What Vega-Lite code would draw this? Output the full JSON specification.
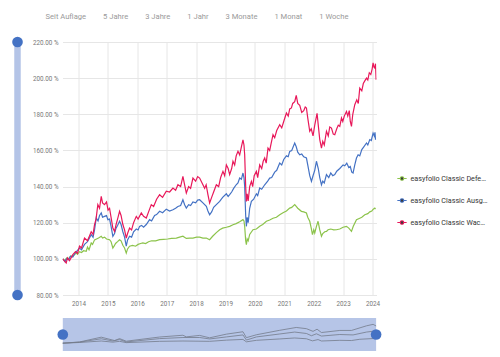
{
  "$schema": "https://vega.github.io/schema/vega-lite/v6.json",
  "padding": {"left": 11.5, "top": 13, "right": 0, "bottom": 0},
  "background": "white",
  "title": {
    "text": "Seit Auflage\u00a0\u00a0\u00a0\u00a0\u00a0\u00a0\u00a0\u00a0\u00a05 Jahre\u00a0\u00a0\u00a0\u00a0\u00a0\u00a0\u00a0\u00a0\u00a03 Jahre\u00a0\u00a0\u00a0\u00a0\u00a0\u00a0\u00a0\u00a0\u00a01 Jahr\u00a0\u00a0\u00a0\u00a0\u00a0\u00a0\u00a0\u00a0\u00a03 Monate\u00a0\u00a0\u00a0\u00a0\u00a0\u00a0\u00a0\u00a0\u00a01 Monat\u00a0\u00a0\u00a0\u00a0\u00a0\u00a0\u00a0\u00a0\u00a01 Woche",
    "anchor": "start",
    "dx": 34,
    "offset": 16,
    "fontSize": 7.6,
    "fontWeight": "normal",
    "color": "#9a9a9a"
  },
  "config": {"view": {"stroke": null}, "font": "Roboto"},
  "bounds": "flush",
  "spacing": 39,
  "hconcat": [
    {
      "width": 12,
      "height": 253,
      "data": {"values": [{"lo": 80, "hi": 220}]},
      "layer": [
        {
          "mark": {"type": "rule", "strokeWidth": 6.5, "color": "#b4c4e7"},
          "encoding": {
            "y": {"field": "lo", "type": "quantitative", "scale": {"domain": [80, 220], "nice": false, "zero": false}, "axis": null},
            "y2": {"field": "hi"}
          }
        },
        {
          "mark": {"type": "circle", "size": 113, "color": "#4472c4", "opacity": 1},
          "encoding": {
            "y": {"field": "lo", "type": "quantitative", "scale": {"domain": [80, 220], "nice": false, "zero": false}, "axis": null}
          }
        },
        {
          "mark": {"type": "circle", "size": 113, "color": "#4472c4", "opacity": 1},
          "encoding": {
            "y": {"field": "hi", "type": "quantitative", "scale": {"domain": [80, 220], "nice": false, "zero": false}, "axis": null}
          }
        }
      ]
    },
    {
      "bounds": "flush",
      "spacing": 23,
      "resolve": {"scale": {"stroke": "independent"}, "legend": {"stroke": "independent"}},
      "vconcat": [
        {
          "width": 314,
          "height": 253,
          "data": {"values": [
            {"d":2013.465,"s":"Defensiv","v":100},{"d":2013.540,"s":"Defensiv","v":99},{"d":2013.591,"s":"Defensiv","v":100.5},{"d":2013.660,"s":"Defensiv","v":100},{"d":2013.728,"s":"Defensiv","v":101.5},{"d":2013.806,"s":"Defensiv","v":101.5},{"d":2013.922,"s":"Defensiv","v":103.2},{"d":2013.966,"s":"Defensiv","v":102.5},{"d":2014.034,"s":"Defensiv","v":104},{"d":2014.102,"s":"Defensiv","v":103.5},{"d":2014.170,"s":"Defensiv","v":104.5},{"d":2014.262,"s":"Defensiv","v":104.2},{"d":2014.306,"s":"Defensiv","v":106.5},{"d":2014.358,"s":"Defensiv","v":105},{"d":2014.432,"s":"Defensiv","v":108.8},{"d":2014.477,"s":"Defensiv","v":108},{"d":2014.545,"s":"Defensiv","v":110.5},{"d":2014.613,"s":"Defensiv","v":111},{"d":2014.681,"s":"Defensiv","v":111.5},{"d":2014.773,"s":"Defensiv","v":112.5},{"d":2014.817,"s":"Defensiv","v":111.5},{"d":2014.885,"s":"Defensiv","v":112},{"d":2014.953,"s":"Defensiv","v":111},{"d":2015.056,"s":"Defensiv","v":110.6},{"d":2015.107,"s":"Defensiv","v":109.5},{"d":2015.168,"s":"Defensiv","v":106},{"d":2015.209,"s":"Defensiv","v":107},{"d":2015.260,"s":"Defensiv","v":108.5},{"d":2015.328,"s":"Defensiv","v":109.5},{"d":2015.396,"s":"Defensiv","v":110.6},{"d":2015.447,"s":"Defensiv","v":110},{"d":2015.508,"s":"Defensiv","v":107.5},{"d":2015.566,"s":"Defensiv","v":106},{"d":2015.624,"s":"Defensiv","v":103.2},{"d":2015.668,"s":"Defensiv","v":105.5},{"d":2015.736,"s":"Defensiv","v":107},{"d":2015.839,"s":"Defensiv","v":107.5},{"d":2015.941,"s":"Defensiv","v":107},{"d":2016.026,"s":"Defensiv","v":108},{"d":2016.111,"s":"Defensiv","v":108.5},{"d":2016.189,"s":"Defensiv","v":108.8},{"d":2016.281,"s":"Defensiv","v":108.5},{"d":2016.383,"s":"Defensiv","v":109.5},{"d":2016.486,"s":"Defensiv","v":110},{"d":2016.622,"s":"Defensiv","v":110},{"d":2016.758,"s":"Defensiv","v":110.6},{"d":2016.894,"s":"Defensiv","v":110.8},{"d":2017.030,"s":"Defensiv","v":111},{"d":2017.166,"s":"Defensiv","v":111.3},{"d":2017.327,"s":"Defensiv","v":111.5},{"d":2017.439,"s":"Defensiv","v":112},{"d":2017.551,"s":"Defensiv","v":112.5},{"d":2017.667,"s":"Defensiv","v":111.3},{"d":2017.779,"s":"Defensiv","v":111.5},{"d":2017.892,"s":"Defensiv","v":111.5},{"d":2018.018,"s":"Defensiv","v":112},{"d":2018.120,"s":"Defensiv","v":112},{"d":2018.232,"s":"Defensiv","v":111.5},{"d":2018.348,"s":"Defensiv","v":111.5},{"d":2018.409,"s":"Defensiv","v":111},{"d":2018.460,"s":"Defensiv","v":110.6},{"d":2018.562,"s":"Defensiv","v":112.5},{"d":2018.688,"s":"Defensiv","v":114.5},{"d":2018.801,"s":"Defensiv","v":116.1},{"d":2018.903,"s":"Defensiv","v":117},{"d":2019.029,"s":"Defensiv","v":117.5},{"d":2019.141,"s":"Defensiv","v":118},{"d":2019.254,"s":"Defensiv","v":118.9},{"d":2019.363,"s":"Defensiv","v":119.5},{"d":2019.482,"s":"Defensiv","v":120.5},{"d":2019.594,"s":"Defensiv","v":121.7},{"d":2019.628,"s":"Defensiv","v":121},{"d":2019.652,"s":"Defensiv","v":118},{"d":2019.686,"s":"Defensiv","v":110},{"d":2019.710,"s":"Defensiv","v":107.8},{"d":2019.737,"s":"Defensiv","v":111},{"d":2019.771,"s":"Defensiv","v":110},{"d":2019.822,"s":"Defensiv","v":113.5},{"d":2019.935,"s":"Defensiv","v":116.1},{"d":2020.050,"s":"Defensiv","v":116.5},{"d":2020.163,"s":"Defensiv","v":118},{"d":2020.265,"s":"Defensiv","v":119},{"d":2020.391,"s":"Defensiv","v":120.8},{"d":2020.503,"s":"Defensiv","v":121.5},{"d":2020.616,"s":"Defensiv","v":122.5},{"d":2020.731,"s":"Defensiv","v":123},{"d":2020.844,"s":"Defensiv","v":124.4},{"d":2020.956,"s":"Defensiv","v":125.5},{"d":2021.072,"s":"Defensiv","v":126.5},{"d":2021.184,"s":"Defensiv","v":128.1},{"d":2021.252,"s":"Defensiv","v":128.5},{"d":2021.354,"s":"Defensiv","v":130},{"d":2021.406,"s":"Defensiv","v":129},{"d":2021.457,"s":"Defensiv","v":128},{"d":2021.582,"s":"Defensiv","v":126.3},{"d":2021.661,"s":"Defensiv","v":126},{"d":2021.753,"s":"Defensiv","v":125.4},{"d":2021.797,"s":"Defensiv","v":123},{"d":2021.865,"s":"Defensiv","v":120.8},{"d":2021.916,"s":"Defensiv","v":117},{"d":2021.957,"s":"Defensiv","v":113.4},{"d":2022.001,"s":"Defensiv","v":116},{"d":2022.035,"s":"Defensiv","v":114.3},{"d":2022.093,"s":"Defensiv","v":118},{"d":2022.148,"s":"Defensiv","v":120.8},{"d":2022.206,"s":"Defensiv","v":116},{"d":2022.264,"s":"Defensiv","v":112.5},{"d":2022.308,"s":"Defensiv","v":114},{"d":2022.376,"s":"Defensiv","v":115},{"d":2022.434,"s":"Defensiv","v":115.2},{"d":2022.488,"s":"Defensiv","v":116.1},{"d":2022.580,"s":"Defensiv","v":116.5},{"d":2022.682,"s":"Defensiv","v":116},{"d":2022.774,"s":"Defensiv","v":116.1},{"d":2022.887,"s":"Defensiv","v":116.5},{"d":2022.999,"s":"Defensiv","v":117.5},{"d":2023.115,"s":"Defensiv","v":118},{"d":2023.193,"s":"Defensiv","v":117},{"d":2023.285,"s":"Defensiv","v":115.2},{"d":2023.346,"s":"Defensiv","v":118},{"d":2023.455,"s":"Defensiv","v":121.7},{"d":2023.567,"s":"Defensiv","v":122.5},{"d":2023.636,"s":"Defensiv","v":123},{"d":2023.738,"s":"Defensiv","v":124.4},{"d":2023.840,"s":"Defensiv","v":125},{"d":2023.908,"s":"Defensiv","v":126},{"d":2023.976,"s":"Defensiv","v":126.5},{"d":2024.027,"s":"Defensiv","v":127.5},{"d":2024.078,"s":"Defensiv","v":128.1},{"d":2024.102,"s":"Defensiv","v":127.5},
            {"d":2013.465,"s":"Ausgewogen","v":100},{"d":2013.540,"s":"Ausgewogen","v":98.5},{"d":2013.591,"s":"Ausgewogen","v":100},{"d":2013.660,"s":"Ausgewogen","v":99.5},{"d":2013.728,"s":"Ausgewogen","v":101.5},{"d":2013.806,"s":"Ausgewogen","v":101},{"d":2013.898,"s":"Ausgewogen","v":103.5},{"d":2014.034,"s":"Ausgewogen","v":106},{"d":2014.102,"s":"Ausgewogen","v":105},{"d":2014.204,"s":"Ausgewogen","v":108},{"d":2014.306,"s":"Ausgewogen","v":109.5},{"d":2014.432,"s":"Ausgewogen","v":113.4},{"d":2014.494,"s":"Ausgewogen","v":112},{"d":2014.545,"s":"Ausgewogen","v":116},{"d":2014.603,"s":"Ausgewogen","v":122.6},{"d":2014.664,"s":"Ausgewogen","v":121},{"d":2014.715,"s":"Ausgewogen","v":124},{"d":2014.773,"s":"Ausgewogen","v":125.4},{"d":2014.817,"s":"Ausgewogen","v":123},{"d":2014.885,"s":"Ausgewogen","v":123.5},{"d":2014.953,"s":"Ausgewogen","v":124},{"d":2014.998,"s":"Ausgewogen","v":121.7},{"d":2015.056,"s":"Ausgewogen","v":122},{"d":2015.107,"s":"Ausgewogen","v":118},{"d":2015.168,"s":"Ausgewogen","v":112.5},{"d":2015.226,"s":"Ausgewogen","v":114},{"d":2015.277,"s":"Ausgewogen","v":117},{"d":2015.328,"s":"Ausgewogen","v":118.5},{"d":2015.396,"s":"Ausgewogen","v":120.8},{"d":2015.447,"s":"Ausgewogen","v":119},{"d":2015.508,"s":"Ausgewogen","v":115},{"d":2015.566,"s":"Ausgewogen","v":112},{"d":2015.624,"s":"Ausgewogen","v":107},{"d":2015.668,"s":"Ausgewogen","v":110.5},{"d":2015.736,"s":"Ausgewogen","v":112.5},{"d":2015.805,"s":"Ausgewogen","v":112},{"d":2015.873,"s":"Ausgewogen","v":115},{"d":2015.965,"s":"Ausgewogen","v":116.5},{"d":2016.026,"s":"Ausgewogen","v":116},{"d":2016.077,"s":"Ausgewogen","v":118},{"d":2016.145,"s":"Ausgewogen","v":118.5},{"d":2016.213,"s":"Ausgewogen","v":117.5},{"d":2016.305,"s":"Ausgewogen","v":119},{"d":2016.417,"s":"Ausgewogen","v":121.7},{"d":2016.486,"s":"Ausgewogen","v":121},{"d":2016.588,"s":"Ausgewogen","v":124},{"d":2016.656,"s":"Ausgewogen","v":124.5},{"d":2016.758,"s":"Ausgewogen","v":126.3},{"d":2016.860,"s":"Ausgewogen","v":125.5},{"d":2016.986,"s":"Ausgewogen","v":127.5},{"d":2017.098,"s":"Ausgewogen","v":126.5},{"d":2017.211,"s":"Ausgewogen","v":127.2},{"d":2017.303,"s":"Ausgewogen","v":128},{"d":2017.381,"s":"Ausgewogen","v":129},{"d":2017.473,"s":"Ausgewogen","v":129.5},{"d":2017.551,"s":"Ausgewogen","v":132.7},{"d":2017.609,"s":"Ausgewogen","v":130},{"d":2017.667,"s":"Ausgewogen","v":128.1},{"d":2017.745,"s":"Ausgewogen","v":130},{"d":2017.813,"s":"Ausgewogen","v":129.5},{"d":2017.892,"s":"Ausgewogen","v":131.5},{"d":2017.984,"s":"Ausgewogen","v":131},{"d":2018.052,"s":"Ausgewogen","v":132.5},{"d":2018.120,"s":"Ausgewogen","v":132.7},{"d":2018.232,"s":"Ausgewogen","v":131},{"d":2018.348,"s":"Ausgewogen","v":129.1},{"d":2018.402,"s":"Ausgewogen","v":126.5},{"d":2018.460,"s":"Ausgewogen","v":124.4},{"d":2018.528,"s":"Ausgewogen","v":126},{"d":2018.596,"s":"Ausgewogen","v":128.5},{"d":2018.688,"s":"Ausgewogen","v":130},{"d":2018.801,"s":"Ausgewogen","v":131.8},{"d":2018.903,"s":"Ausgewogen","v":134},{"d":2019.029,"s":"Ausgewogen","v":136},{"d":2019.090,"s":"Ausgewogen","v":134.5},{"d":2019.141,"s":"Ausgewogen","v":135.5},{"d":2019.209,"s":"Ausgewogen","v":137},{"d":2019.277,"s":"Ausgewogen","v":139},{"d":2019.363,"s":"Ausgewogen","v":141},{"d":2019.424,"s":"Ausgewogen","v":142},{"d":2019.482,"s":"Ausgewogen","v":144.7},{"d":2019.540,"s":"Ausgewogen","v":144},{"d":2019.594,"s":"Ausgewogen","v":147.5},{"d":2019.628,"s":"Ausgewogen","v":145},{"d":2019.652,"s":"Ausgewogen","v":140},{"d":2019.686,"s":"Ausgewogen","v":124},{"d":2019.710,"s":"Ausgewogen","v":118},{"d":2019.737,"s":"Ausgewogen","v":123},{"d":2019.771,"s":"Ausgewogen","v":120},{"d":2019.822,"s":"Ausgewogen","v":128},{"d":2019.880,"s":"Ausgewogen","v":131.8},{"d":2019.958,"s":"Ausgewogen","v":133},{"d":2020.050,"s":"Ausgewogen","v":136},{"d":2020.094,"s":"Ausgewogen","v":135},{"d":2020.163,"s":"Ausgewogen","v":139.2},{"d":2020.231,"s":"Ausgewogen","v":138.5},{"d":2020.333,"s":"Ausgewogen","v":141},{"d":2020.435,"s":"Ausgewogen","v":143},{"d":2020.503,"s":"Ausgewogen","v":144.7},{"d":2020.571,"s":"Ausgewogen","v":145},{"d":2020.673,"s":"Ausgewogen","v":148},{"d":2020.742,"s":"Ausgewogen","v":149},{"d":2020.844,"s":"Ausgewogen","v":153},{"d":2020.912,"s":"Ausgewogen","v":152},{"d":2020.980,"s":"Ausgewogen","v":155},{"d":2021.072,"s":"Ausgewogen","v":157},{"d":2021.133,"s":"Ausgewogen","v":156.5},{"d":2021.184,"s":"Ausgewogen","v":159.5},{"d":2021.252,"s":"Ausgewogen","v":160},{"d":2021.303,"s":"Ausgewogen","v":162},{"d":2021.354,"s":"Ausgewogen","v":164.1},{"d":2021.406,"s":"Ausgewogen","v":162},{"d":2021.457,"s":"Ausgewogen","v":159},{"d":2021.525,"s":"Ausgewogen","v":157.6},{"d":2021.593,"s":"Ausgewogen","v":158},{"d":2021.661,"s":"Ausgewogen","v":156.5},{"d":2021.753,"s":"Ausgewogen","v":155.8},{"d":2021.797,"s":"Ausgewogen","v":152},{"d":2021.865,"s":"Ausgewogen","v":146},{"d":2021.923,"s":"Ausgewogen","v":142.9},{"d":2021.977,"s":"Ausgewogen","v":146},{"d":2022.035,"s":"Ausgewogen","v":149},{"d":2022.093,"s":"Ausgewogen","v":154},{"d":2022.155,"s":"Ausgewogen","v":150},{"d":2022.206,"s":"Ausgewogen","v":145},{"d":2022.264,"s":"Ausgewogen","v":141},{"d":2022.308,"s":"Ausgewogen","v":143},{"d":2022.359,"s":"Ausgewogen","v":142},{"d":2022.434,"s":"Ausgewogen","v":146.6},{"d":2022.512,"s":"Ausgewogen","v":145},{"d":2022.580,"s":"Ausgewogen","v":147.5},{"d":2022.648,"s":"Ausgewogen","v":146},{"d":2022.716,"s":"Ausgewogen","v":146.6},{"d":2022.784,"s":"Ausgewogen","v":148.5},{"d":2022.887,"s":"Ausgewogen","v":150},{"d":2022.999,"s":"Ausgewogen","v":152},{"d":2023.057,"s":"Ausgewogen","v":151.5},{"d":2023.125,"s":"Ausgewogen","v":153},{"d":2023.193,"s":"Ausgewogen","v":150.5},{"d":2023.244,"s":"Ausgewogen","v":151.1},{"d":2023.295,"s":"Ausgewogen","v":148},{"d":2023.339,"s":"Ausgewogen","v":147.5},{"d":2023.397,"s":"Ausgewogen","v":152},{"d":2023.455,"s":"Ausgewogen","v":155.8},{"d":2023.510,"s":"Ausgewogen","v":157.6},{"d":2023.567,"s":"Ausgewogen","v":157},{"d":2023.636,"s":"Ausgewogen","v":160.5},{"d":2023.704,"s":"Ausgewogen","v":162},{"d":2023.796,"s":"Ausgewogen","v":164.1},{"d":2023.840,"s":"Ausgewogen","v":163},{"d":2023.908,"s":"Ausgewogen","v":166},{"d":2023.959,"s":"Ausgewogen","v":165.5},{"d":2024.020,"s":"Ausgewogen","v":169.6},{"d":2024.061,"s":"Ausgewogen","v":168},{"d":2024.085,"s":"Ausgewogen","v":170},{"d":2024.102,"s":"Ausgewogen","v":165.9},
            {"d":2013.465,"s":"Wachstum","v":100},{"d":2013.540,"s":"Wachstum","v":98.5},{"d":2013.581,"s":"Wachstum","v":97.7},{"d":2013.625,"s":"Wachstum","v":100.5},{"d":2013.694,"s":"Wachstum","v":99},{"d":2013.806,"s":"Wachstum","v":102.3},{"d":2013.898,"s":"Wachstum","v":104},{"d":2013.966,"s":"Wachstum","v":103},{"d":2014.034,"s":"Wachstum","v":107},{"d":2014.102,"s":"Wachstum","v":106},{"d":2014.204,"s":"Wachstum","v":111.5},{"d":2014.306,"s":"Wachstum","v":110},{"d":2014.432,"s":"Wachstum","v":115},{"d":2014.494,"s":"Wachstum","v":113.5},{"d":2014.545,"s":"Wachstum","v":118.9},{"d":2014.596,"s":"Wachstum","v":122},{"d":2014.657,"s":"Wachstum","v":130},{"d":2014.715,"s":"Wachstum","v":128},{"d":2014.773,"s":"Wachstum","v":134.6},{"d":2014.817,"s":"Wachstum","v":131},{"d":2014.885,"s":"Wachstum","v":130},{"d":2014.953,"s":"Wachstum","v":131.5},{"d":2015.004,"s":"Wachstum","v":127},{"d":2015.056,"s":"Wachstum","v":128},{"d":2015.107,"s":"Wachstum","v":123},{"d":2015.168,"s":"Wachstum","v":117},{"d":2015.226,"s":"Wachstum","v":115.2},{"d":2015.277,"s":"Wachstum","v":119},{"d":2015.328,"s":"Wachstum","v":122},{"d":2015.396,"s":"Wachstum","v":126.3},{"d":2015.447,"s":"Wachstum","v":124},{"d":2015.508,"s":"Wachstum","v":119},{"d":2015.566,"s":"Wachstum","v":116},{"d":2015.624,"s":"Wachstum","v":111.5},{"d":2015.668,"s":"Wachstum","v":114},{"d":2015.736,"s":"Wachstum","v":117},{"d":2015.805,"s":"Wachstum","v":116},{"d":2015.873,"s":"Wachstum","v":120},{"d":2015.965,"s":"Wachstum","v":123.5},{"d":2016.026,"s":"Wachstum","v":122},{"d":2016.135,"s":"Wachstum","v":125.4},{"d":2016.213,"s":"Wachstum","v":123.5},{"d":2016.305,"s":"Wachstum","v":122.6},{"d":2016.383,"s":"Wachstum","v":126},{"d":2016.475,"s":"Wachstum","v":130},{"d":2016.554,"s":"Wachstum","v":129},{"d":2016.656,"s":"Wachstum","v":133},{"d":2016.758,"s":"Wachstum","v":135.5},{"d":2016.860,"s":"Wachstum","v":134},{"d":2016.986,"s":"Wachstum","v":137.4},{"d":2017.098,"s":"Wachstum","v":137},{"d":2017.211,"s":"Wachstum","v":139.2},{"d":2017.303,"s":"Wachstum","v":138},{"d":2017.381,"s":"Wachstum","v":141},{"d":2017.473,"s":"Wachstum","v":140},{"d":2017.551,"s":"Wachstum","v":145.7},{"d":2017.609,"s":"Wachstum","v":141},{"d":2017.667,"s":"Wachstum","v":136.4},{"d":2017.745,"s":"Wachstum","v":140},{"d":2017.813,"s":"Wachstum","v":139},{"d":2017.892,"s":"Wachstum","v":144.7},{"d":2017.984,"s":"Wachstum","v":143},{"d":2018.052,"s":"Wachstum","v":145.5},{"d":2018.120,"s":"Wachstum","v":144.7},{"d":2018.232,"s":"Wachstum","v":141},{"d":2018.290,"s":"Wachstum","v":139},{"d":2018.341,"s":"Wachstum","v":141},{"d":2018.402,"s":"Wachstum","v":135.5},{"d":2018.460,"s":"Wachstum","v":130.9},{"d":2018.528,"s":"Wachstum","v":134},{"d":2018.596,"s":"Wachstum","v":137},{"d":2018.688,"s":"Wachstum","v":141},{"d":2018.767,"s":"Wachstum","v":140},{"d":2018.835,"s":"Wachstum","v":145},{"d":2018.913,"s":"Wachstum","v":148.4},{"d":2018.971,"s":"Wachstum","v":146},{"d":2019.029,"s":"Wachstum","v":152},{"d":2019.090,"s":"Wachstum","v":150},{"d":2019.141,"s":"Wachstum","v":146.6},{"d":2019.209,"s":"Wachstum","v":150},{"d":2019.254,"s":"Wachstum","v":154},{"d":2019.311,"s":"Wachstum","v":152},{"d":2019.363,"s":"Wachstum","v":157},{"d":2019.424,"s":"Wachstum","v":159.5},{"d":2019.482,"s":"Wachstum","v":157.5},{"d":2019.540,"s":"Wachstum","v":162},{"d":2019.594,"s":"Wachstum","v":165.9},{"d":2019.628,"s":"Wachstum","v":163},{"d":2019.652,"s":"Wachstum","v":157.6},{"d":2019.686,"s":"Wachstum","v":140},{"d":2019.710,"s":"Wachstum","v":131.8},{"d":2019.737,"s":"Wachstum","v":136},{"d":2019.771,"s":"Wachstum","v":132},{"d":2019.822,"s":"Wachstum","v":140},{"d":2019.880,"s":"Wachstum","v":142.9},{"d":2019.924,"s":"Wachstum","v":140},{"d":2019.976,"s":"Wachstum","v":146},{"d":2020.050,"s":"Wachstum","v":148.4},{"d":2020.094,"s":"Wachstum","v":145},{"d":2020.163,"s":"Wachstum","v":152},{"d":2020.231,"s":"Wachstum","v":150},{"d":2020.282,"s":"Wachstum","v":154},{"d":2020.333,"s":"Wachstum","v":155.8},{"d":2020.384,"s":"Wachstum","v":153},{"d":2020.445,"s":"Wachstum","v":161.3},{"d":2020.503,"s":"Wachstum","v":160},{"d":2020.554,"s":"Wachstum","v":164},{"d":2020.616,"s":"Wachstum","v":168.7},{"d":2020.673,"s":"Wachstum","v":167},{"d":2020.742,"s":"Wachstum","v":171},{"d":2020.844,"s":"Wachstum","v":174.2},{"d":2020.912,"s":"Wachstum","v":172.5},{"d":2020.980,"s":"Wachstum","v":176},{"d":2021.072,"s":"Wachstum","v":180.7},{"d":2021.133,"s":"Wachstum","v":179},{"d":2021.184,"s":"Wachstum","v":183},{"d":2021.242,"s":"Wachstum","v":183.5},{"d":2021.286,"s":"Wachstum","v":186},{"d":2021.354,"s":"Wachstum","v":187},{"d":2021.406,"s":"Wachstum","v":190.5},{"d":2021.457,"s":"Wachstum","v":186},{"d":2021.525,"s":"Wachstum","v":185},{"d":2021.593,"s":"Wachstum","v":181},{"d":2021.661,"s":"Wachstum","v":182},{"d":2021.712,"s":"Wachstum","v":184},{"d":2021.753,"s":"Wachstum","v":183.5},{"d":2021.797,"s":"Wachstum","v":178},{"d":2021.865,"s":"Wachstum","v":170.6},{"d":2021.916,"s":"Wachstum","v":172},{"d":2021.977,"s":"Wachstum","v":168},{"d":2022.035,"s":"Wachstum","v":174},{"d":2022.114,"s":"Wachstum","v":180.5},{"d":2022.155,"s":"Wachstum","v":174},{"d":2022.206,"s":"Wachstum","v":166},{"d":2022.264,"s":"Wachstum","v":161.3},{"d":2022.308,"s":"Wachstum","v":165},{"d":2022.359,"s":"Wachstum","v":163},{"d":2022.434,"s":"Wachstum","v":170.6},{"d":2022.495,"s":"Wachstum","v":168},{"d":2022.546,"s":"Wachstum","v":173},{"d":2022.604,"s":"Wachstum","v":172.4},{"d":2022.665,"s":"Wachstum","v":169},{"d":2022.716,"s":"Wachstum","v":168.7},{"d":2022.784,"s":"Wachstum","v":172},{"d":2022.836,"s":"Wachstum","v":174},{"d":2022.887,"s":"Wachstum","v":173.3},{"d":2022.945,"s":"Wachstum","v":178},{"d":2022.989,"s":"Wachstum","v":176},{"d":2023.040,"s":"Wachstum","v":179},{"d":2023.115,"s":"Wachstum","v":181.6},{"d":2023.159,"s":"Wachstum","v":179},{"d":2023.210,"s":"Wachstum","v":182},{"d":2023.244,"s":"Wachstum","v":176},{"d":2023.285,"s":"Wachstum","v":173.3},{"d":2023.329,"s":"Wachstum","v":180},{"d":2023.397,"s":"Wachstum","v":185.3},{"d":2023.465,"s":"Wachstum","v":188},{"d":2023.516,"s":"Wachstum","v":186},{"d":2023.567,"s":"Wachstum","v":194.5},{"d":2023.636,"s":"Wachstum","v":193},{"d":2023.687,"s":"Wachstum","v":197},{"d":2023.738,"s":"Wachstum","v":198.5},{"d":2023.796,"s":"Wachstum","v":200},{"d":2023.840,"s":"Wachstum","v":199},{"d":2023.891,"s":"Wachstum","v":203},{"d":2023.942,"s":"Wachstum","v":202},{"d":2023.987,"s":"Wachstum","v":205},{"d":2024.020,"s":"Wachstum","v":208.4},{"d":2024.051,"s":"Wachstum","v":206},{"d":2024.078,"s":"Wachstum","v":205.6},{"d":2024.102,"s":"Wachstum","v":208},{"d":2024.123,"s":"Wachstum","v":199.1}
          ]},
          "mark": {"type": "line", "strokeWidth": 1.2, "clip": true},
          "encoding": {
            "x": {
              "field": "d", "type": "quantitative",
              "scale": {"domain": [2013.455, 2024.136], "nice": false, "zero": false},
              "axis": {"title": null, "values": [2014, 2015, 2016, 2017, 2018, 2019, 2020, 2021, 2022, 2023, 2024], "format": "d", "grid": true, "gridColor": "#e6e6e6", "domain": false, "ticks": false, "labelPadding": 5, "labelFontSize": 6.3, "labelColor": "#777777", "labelFlush": false}
            },
            "y": {
              "field": "v", "type": "quantitative",
              "scale": {"domain": [80, 220], "nice": false, "zero": false},
              "axis": {"title": null, "values": [80, 100, 120, 140, 160, 180, 200, 220], "labelExpr": "format(datum.value, '.2f') + ' %'", "grid": true, "gridColor": "#e6e6e6", "domain": false, "ticks": false, "labelPadding": 4.5, "labelFontSize": 6.3, "labelColor": "#777777"}
            },
            "stroke": {
              "field": "s", "type": "nominal",
              "scale": {"domain": ["Defensiv", "Ausgewogen", "Wachstum"], "range": ["#8cc34b", "#4472c4", "#e8185a"]},
              "legend": {
                "title": null,
                "orient": "none",
                "legendX": 334,
                "legendY": 131,
                "symbolType": "M-1,0H-0.4M0.4,0H1M-0.38,0A0.38,0.38,0,1,0,0.38,0A0.38,0.38,0,1,0,-0.38,0Z",
                "symbolSize": 87,
                "symbolStrokeWidth": 1.2,
                "symbolFillColor": "#3a3a3a",
                "labelFontSize": 7.2,
                "labelColor": "#333333",
                "labelLimit": 78,
                "labelOffset": 3,
                "rowPadding": 12,
                "labelExpr": "'easyfolio Classic ' + datum.label"
              }
            }
          }
        },
        {
          "width": 314,
          "height": 33,
          "data": {"values": [
            {"d":2013.465,"s":"D","v":100},{"d":2014.034,"s":"D","v":104},{"d":2014.773,"s":"D","v":112.5},{"d":2015.168,"s":"D","v":106},{"d":2015.396,"s":"D","v":110.6},{"d":2015.624,"s":"D","v":103.2},{"d":2016.758,"s":"D","v":110.6},{"d":2017.551,"s":"D","v":112.5},{"d":2018.460,"s":"D","v":110.6},{"d":2019.029,"s":"D","v":117.5},{"d":2019.594,"s":"D","v":121.7},{"d":2019.710,"s":"D","v":107.8},{"d":2020.050,"s":"D","v":116.5},{"d":2020.844,"s":"D","v":124.4},{"d":2021.354,"s":"D","v":130},{"d":2021.753,"s":"D","v":125.4},{"d":2021.957,"s":"D","v":113.4},{"d":2022.148,"s":"D","v":120.8},{"d":2022.264,"s":"D","v":112.5},{"d":2022.887,"s":"D","v":116.5},{"d":2023.285,"s":"D","v":115.2},{"d":2023.567,"s":"D","v":122.5},{"d":2024.102,"s":"D","v":127.5},
            {"d":2013.465,"s":"A","v":100},{"d":2014.034,"s":"A","v":106},{"d":2014.773,"s":"A","v":125.4},{"d":2015.168,"s":"A","v":112.5},{"d":2015.396,"s":"A","v":120.8},{"d":2015.624,"s":"A","v":107},{"d":2016.758,"s":"A","v":126.3},{"d":2017.551,"s":"A","v":132.7},{"d":2018.120,"s":"A","v":132.7},{"d":2018.460,"s":"A","v":124.4},{"d":2019.029,"s":"A","v":136},{"d":2019.594,"s":"A","v":147.5},{"d":2019.710,"s":"A","v":118},{"d":2020.050,"s":"A","v":136},{"d":2020.844,"s":"A","v":153},{"d":2021.354,"s":"A","v":164.1},{"d":2021.753,"s":"A","v":155.8},{"d":2021.923,"s":"A","v":142.9},{"d":2022.093,"s":"A","v":154},{"d":2022.264,"s":"A","v":141},{"d":2022.887,"s":"A","v":150},{"d":2023.339,"s":"A","v":147.5},{"d":2023.796,"s":"A","v":164.1},{"d":2024.085,"s":"A","v":170},{"d":2024.102,"s":"A","v":165.9},
            {"d":2013.465,"s":"W","v":100},{"d":2014.034,"s":"W","v":107},{"d":2014.773,"s":"W","v":134.6},{"d":2015.226,"s":"W","v":115.2},{"d":2015.396,"s":"W","v":126.3},{"d":2015.624,"s":"W","v":111.5},{"d":2016.758,"s":"W","v":135.5},{"d":2017.551,"s":"W","v":145.7},{"d":2017.667,"s":"W","v":136.4},{"d":2018.120,"s":"W","v":144.7},{"d":2018.460,"s":"W","v":130.9},{"d":2019.029,"s":"W","v":152},{"d":2019.594,"s":"W","v":165.9},{"d":2019.710,"s":"W","v":131.8},{"d":2020.050,"s":"W","v":148.4},{"d":2020.844,"s":"W","v":174.2},{"d":2021.406,"s":"W","v":190.5},{"d":2021.753,"s":"W","v":183.5},{"d":2021.977,"s":"W","v":168},{"d":2022.114,"s":"W","v":180.5},{"d":2022.264,"s":"W","v":161.3},{"d":2022.887,"s":"W","v":173.3},{"d":2023.285,"s":"W","v":173.3},{"d":2023.796,"s":"W","v":200},{"d":2024.020,"s":"W","v":208.4},{"d":2024.123,"s":"W","v":199.1}
          ]},
          "layer": [
            {
              "data": {"values": [{"a": 2013.465, "b": 2024.123, "lo": 55, "hi": 245}]},
              "mark": {"type": "rect", "color": "#b6c5e7"},
              "encoding": {
                "x": {"field": "a", "type": "quantitative", "scale": {"domain": [2013.455, 2024.136], "nice": false, "zero": false}, "axis": null},
                "x2": {"field": "b"},
                "y": {"field": "lo", "type": "quantitative", "scale": {"domain": [55, 245], "nice": false, "zero": false}, "axis": null},
                "y2": {"field": "hi"}
              }
            },
            {
              "mark": {"type": "line", "strokeWidth": 0.8, "color": "#737b8a"},
              "encoding": {
                "x": {
                  "field": "d", "type": "quantitative",
                  "scale": {"domain": [2013.455, 2024.136], "nice": false, "zero": false},
                  "axis": {"title": null, "values": [2015, 2016, 2017, 2018, 2019, 2020, 2021, 2022, 2023], "format": "d", "grid": false, "domain": false, "ticks": false, "labelPadding": -13, "labelFontSize": 6.3, "labelColor": "#a4b4da", "zindex": 1}
                },
                "y": {"field": "v", "type": "quantitative", "scale": {"domain": [55, 245], "nice": false, "zero": false}, "axis": null},
                "detail": {"field": "s", "type": "nominal"}
              }
            },
            {
              "data": {"values": [{"x": 2013.465, "m": 150}, {"x": 2024.123, "m": 150}]},
              "mark": {"type": "circle", "size": 113, "color": "#4472c4", "opacity": 1},
              "encoding": {
                "x": {"field": "x", "type": "quantitative", "scale": {"domain": [2013.455, 2024.136], "nice": false, "zero": false}, "axis": null},
                "y": {"field": "m", "type": "quantitative", "scale": {"domain": [55, 245], "nice": false, "zero": false}, "axis": null}
              }
            }
          ]
        }
      ]
    }
  ]
}
